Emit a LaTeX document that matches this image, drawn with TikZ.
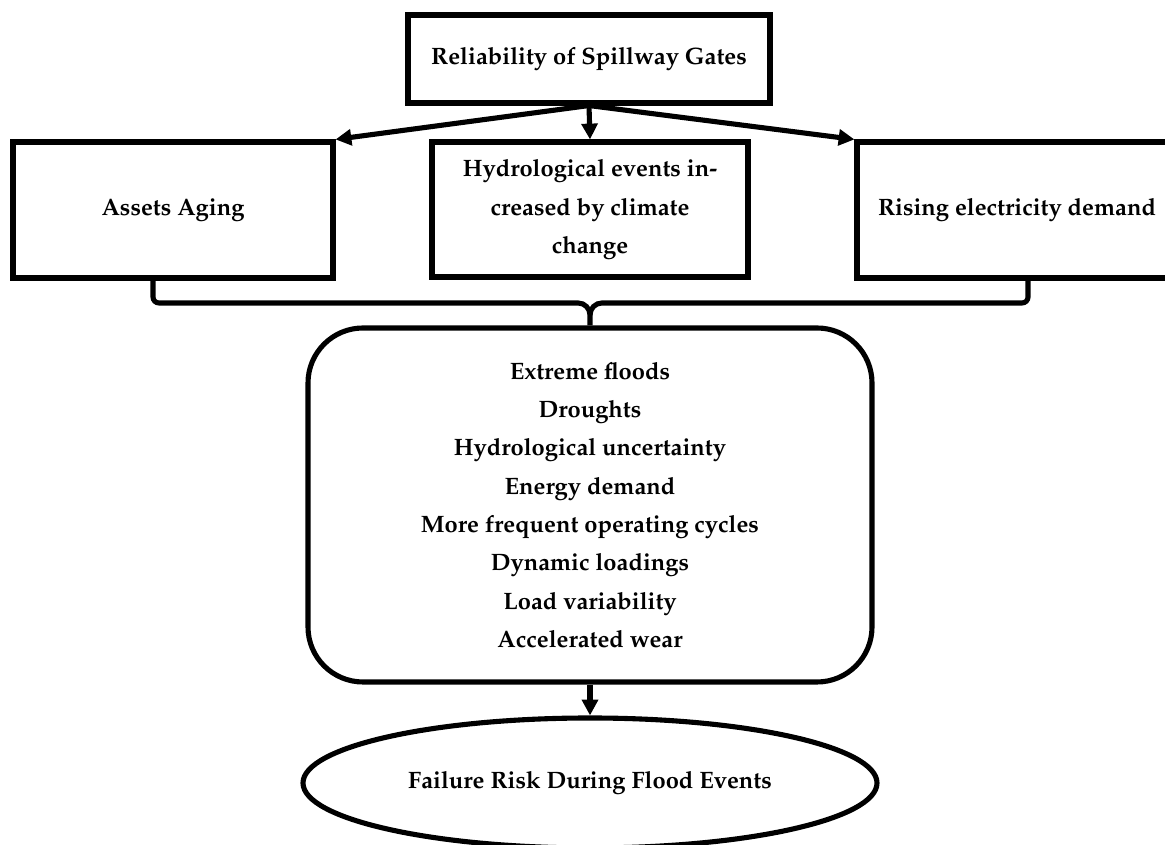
\documentclass[tikz,border=0pt]{standalone}
\usepackage[T1]{fontenc}
\usepackage{mathpazo}
\usetikzlibrary{
    arrows.meta,
    calc,
    shapes.geometric
}

\begin{document}
\begin{tikzpicture}[x=1cm,y=1cm,
    every node/.style={font=\fontsize{13.5}{21.8}\selectfont\bfseries, align=center, inner sep=0pt},
    line/.style={line width=2.9pt},
    box/.style={draw, line width=2.9pt, minimum height=2.72cm},
    arr/.style={line width=2.9pt, -{Triangle[length=9pt,width=9pt]}}
]
\useasboundingbox (0,0) rectangle (23.3,16.9);

% Top question
\node[draw, line width=2.9pt, minimum width=7.24cm, minimum height=1.76cm] (gates) at (11.78,15.72) {Reliability of Spillway Gates};

% Three drivers
\node[box, minimum width=6.4cm] (aging) at (3.46,12.70) {Assets Aging};
\node[box, minimum width=6.32cm, minimum height=2.70cm] (climate) at (11.80,12.71) {Hydrological events in-\\creased by climate\\change};
\node[box, minimum width=6.4cm] (demand) at (20.34,12.70) {Rising electricity demand};

\draw[arr] (gates.south) -- (aging.north east);
\draw[arr] (gates.south) -- (climate.north);
\draw[arr] (gates.south) -- (demand.north west);

% Effects
\node[draw, line width=2.9pt, rounded corners=1.1cm, minimum width=11.28cm, minimum height=7.08cm] (effects) at (11.80,6.80)
    {Extreme floods\\Droughts\\Hydrological uncertainty\\Energy demand\\More frequent operating cycles\\Dynamic loadings\\Load variability\\Accelerated wear};

% Brace joining the drivers
\coordinate (braceL) at (3.06,10.84);
\coordinate (braceR) at (20.56,10.84);
\coordinate (tip) at (effects.north |- braceL);
\draw[line] (braceL |- aging.south) -- ($(braceL)+(0,0.12)$) arc[start angle=180, end angle=270, radius=0.12] -- ($(tip)+(-0.24,0)$) to[out=0,in=90] ($(tip)+(0,-0.24)$) -- (effects.north);
\draw[line] (braceR |- demand.south) -- ($(braceR)+(0,0.12)$) arc[start angle=0, end angle=-90, radius=0.12] -- ($(tip)+(0.24,0)$) to[out=180,in=90] ($(tip)+(0,-0.24)$);

% Outcome
\node[draw, ellipse, line width=2.9pt, minimum width=11.48cm, minimum height=2.6cm] (risk) at (11.80,1.24) {Failure Risk During Flood Events};
\draw[arr] (effects.south) -- (risk.north);

\end{tikzpicture}
\end{document}
